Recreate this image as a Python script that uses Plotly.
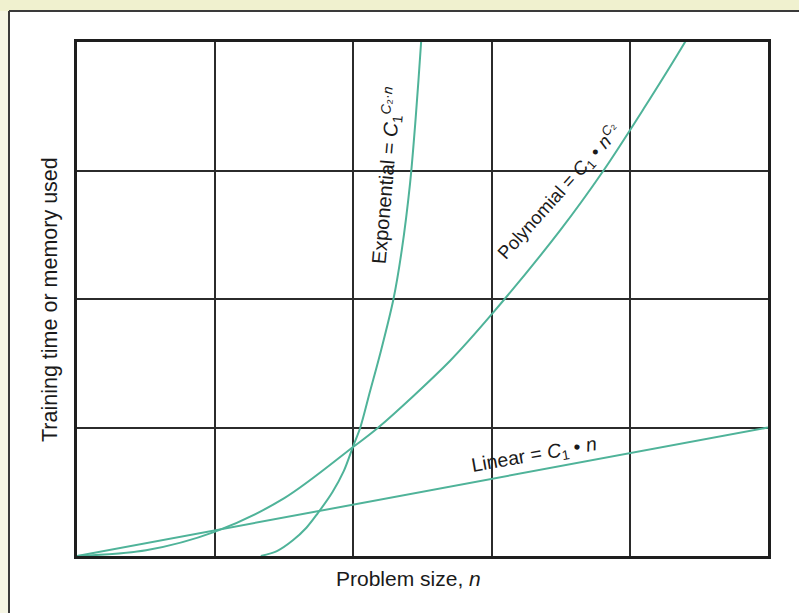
import plotly.graph_objects as go

# ---- data (problem size n, resource used) ----
linear_n = [0, 5]
linear_y = [0, 1.0]

poly_n = [0, 0.5, 1.0, 1.5, 2.0, 2.18, 2.7, 3.0, 3.5, 3.81, 4.1, 4.4, 4.55]
poly_y = [0, 0.045, 0.19, 0.45, 0.85, 1.0, 1.52, 1.88, 2.54, 3.0, 3.48, 4.0, 4.28]

exp_n = [1.33, 1.45, 1.56, 1.66, 1.74, 1.85, 1.93, 2.0, 2.05, 2.12, 2.2, 2.29, 2.35, 2.41, 2.45, 2.49, 2.52]
exp_y = [0.0, 0.04, 0.12, 0.22, 0.33, 0.5, 0.66, 0.86, 1.0, 1.28, 1.6, 2.0, 2.38, 2.9, 3.4, 4.0, 4.5]

x_ticks = [0, 1, 2, 3, 4, 5]
y_ticks = [0, 1, 2, 3, 4]

GREEN = "#4fb399"
GRID = "#2b2b2b"
FONT = "Liberation Sans, Arial, sans-serif"

fig = go.Figure()
for nx, ny in [(linear_n, linear_y), (poly_n, poly_y), (exp_n, exp_y)]:
    fig.add_trace(go.Scatter(x=nx, y=ny, mode="lines",
                             line=dict(color=GREEN, width=2, shape="spline", smoothing=0.9),
                             hoverinfo="skip", showlegend=False))

# plot-area geometry in pixels
L, R, T, B = 77, 31, 42, 57
W, H = 799, 613
pw, ph = W - L - R, H - T - B

def px(x):
    return (x - L) / pw

def py(y):
    return (H - B - y) / ph

shapes = [
    # yellowish scan strip at top
    dict(type="rect", xref="paper", yref="paper", x0=px(0), x1=px(W), y0=py(11), y1=py(0),
         fillcolor="#f0f1cf", line=dict(width=0), layer="below"),
    dict(type="rect", xref="paper", yref="paper", x0=px(0), x1=px(9), y0=py(H), y1=py(11),
         fillcolor="#f6f6e4", line=dict(width=0), layer="below"),
    # outer frame lines
    dict(type="line", xref="paper", yref="paper", x0=px(9), x1=px(W), y0=py(11), y1=py(11),
         line=dict(color="#3a3a3a", width=2)),
    dict(type="line", xref="paper", yref="paper", x0=px(9), x1=px(9), y0=py(11), y1=py(H),
         line=dict(color="#3a3a3a", width=2)),
]

annotations = [
    dict(x=2.24, y=2.96, xref="x", yref="y", showarrow=False, textangle=-85,
         text="Exponential = <i>C</i><sub>1</sub><sup><i>C</i>₂·<i>n</i></sup>",
         font=dict(family=FONT, size=20, color="#1a1a1a")),
    dict(x=3.49, y=2.84, xref="x", yref="y", showarrow=False, textangle=-48,
         text="Polynomial = <i>C</i><sub>1</sub> • <i>n</i><sup><i>C</i>₂</sup>",
         font=dict(family=FONT, size=18.5, color="#1a1a1a")),
    dict(x=3.31, y=0.78, xref="x", yref="y", showarrow=False, textangle=-10,
         text="Linear = <i>C</i><sub>1</sub> • <i>n</i>",
         font=dict(family=FONT, size=19.5, color="#1a1a1a")),
    dict(x=px(408), y=py(578), xref="paper", yref="paper", showarrow=False,
         xanchor="center", yanchor="middle",
         text="Problem size, <i>n</i>", font=dict(family=FONT, size=21, color="#1a1a1a")),
    dict(x=px(50), y=py(300), xref="paper", yref="paper", showarrow=False, textangle=-90,
         xanchor="center", yanchor="middle",
         text="Training time or memory used", font=dict(family=FONT, size=21.5, color="#1a1a1a")),
]

fig.update_layout(
    width=W, height=H,
    margin=dict(l=L, r=R, t=T, b=B, pad=0),
    paper_bgcolor="white", plot_bgcolor="white",
    shapes=shapes, annotations=annotations,
    xaxis=dict(range=[0, 5], tickvals=x_ticks, showticklabels=False, ticks="",
               showgrid=True, gridcolor=GRID, gridwidth=1.5, zeroline=False,
               showline=True, linecolor="#1e1e1e", linewidth=3, mirror=True, fixedrange=True),
    yaxis=dict(range=[0, 4], tickvals=y_ticks, showticklabels=False, ticks="",
               showgrid=True, gridcolor=GRID, gridwidth=1.5, zeroline=False,
               showline=True, linecolor="#1e1e1e", linewidth=3, mirror=True, fixedrange=True),
)

fig.write_html("out.html", config={"displayModeBar": False},
               post_script="document.body.style.margin='0';document.body.style.overflow='hidden';")
